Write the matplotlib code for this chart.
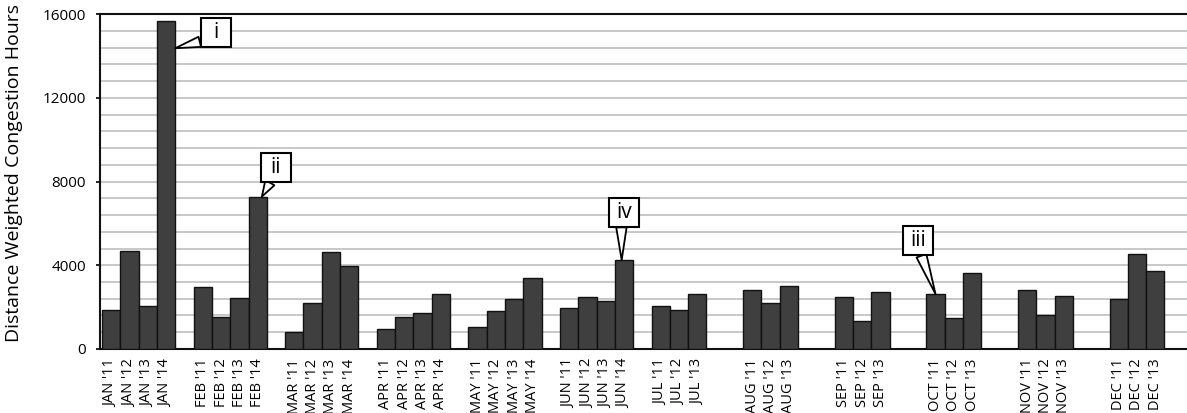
import numpy as np
import matplotlib.pyplot as plt
from matplotlib.path import Path

plt.rcParams['font.family'] = ['Open Sans', 'DejaVu Sans']

# --- data ---
months = ['JAN', 'FEB', 'MAR', 'APR', 'MAY', 'JUN',
          'JUL', 'AUG', 'SEP', 'OCT', 'NOV', 'DEC']
years = ["'11", "'12", "'13", "'14"]

# one row per month, one column per year (None = no data)
hours = [
    [1860, 4700, 2050, 15650],   # JAN
    [2980, 1550, 2450, 7280],    # FEB
    [830, 2180, 4610, 3980],     # MAR
    [955, 1550, 1710, 2620],     # APR
    [1040, 1830, 2380, 3390],    # MAY
    [1940, 2480, 2310, 4250],    # JUN
    [2060, 1850, 2610, None],    # JUL
    [2800, 2220, 2990, None],    # AUG
    [2480, 1360, 2740, None],    # SEP
    [2630, 1490, 3630, None],    # OCT
    [2820, 1610, 2510, None],    # NOV
    [2410, 4520, 3720, None],    # DEC
]

# callouts: (month, year index, label)
callouts = [('JAN', 3, 'i'), ('FEB', 3, 'ii'), ('OCT', 0, 'iii'), ('JUN', 3, 'iv')]

# --- build bar positions: 4 slots per month + 1 gap slot ---
xs, vals, labels = [], [], []
for m, month in enumerate(months):
    for y, yr in enumerate(years):
        v = hours[m][y]
        if v is None:
            continue
        xs.append(m * 5 + y)
        vals.append(v)
        labels.append(f"{month} {yr}")

fig = plt.figure(figsize=(11.87, 4.13), dpi=100)
ax = fig.add_axes([0.0842, 0.155, 0.9158, 0.811])

ax.bar(xs, vals, width=1.0, color='#3f3f3f', edgecolor='#111111', linewidth=1.0, zorder=3)

ax.set_ylim(0, 16000)
ax.set_xlim(-0.61, 58.73)
ax.set_yticks(np.arange(0, 16001, 4000))
ax.set_yticks(np.arange(0, 16001, 800), minor=True)
ax.grid(axis='y', which='both', color='#c4c4c4', linewidth=1.3, zorder=0)
ax.tick_params(axis='y', which='major', length=3, width=1.2, pad=7, labelsize=11)
ax.tick_params(axis='y', which='minor', length=0)

ax.set_xticks(xs)
ax.set_xticklabels(labels, rotation=90, fontsize=10.5)
ax.tick_params(axis='x', length=0, pad=7)

for side in ['left', 'bottom', 'top']:
    ax.spines[side].set_linewidth(1.5)
    ax.spines[side].set_color('#111111')
ax.spines['right'].set_visible(False)

ax.set_ylabel('Distance Weighted Congestion Hours', fontsize=14)
ax.yaxis.set_label_coords(-0.071, 0.525)


# fixed-size square callout box (pixels)
def fixed_box(x0, y0, width, height, mutation_size, w=30, h=29):
    cx, cy = x0 + width / 2, y0 + height / 2
    verts = [(cx - w / 2, cy - h / 2), (cx + w / 2, cy - h / 2),
             (cx + w / 2, cy + h / 2), (cx - w / 2, cy + h / 2),
             (cx - w / 2, cy - h / 2)]
    codes = [Path.MOVETO, Path.LINETO, Path.LINETO, Path.LINETO, Path.CLOSEPOLY]
    return Path(verts, codes)


# tip offset within the bar (slots, fraction of value), text offset (points), arrow root
callout_style = {
    'i':   dict(tip=(0.5, 0.918), off=(29, 11), relpos=(0.0, 0.24)),
    'ii':  dict(tip=(0.23, 1.0), off=(10, 21), relpos=(0.2, 0.0)),
    'iii': dict(tip=(0.0, 1.0), off=(-12.5, 38.5), relpos=(0.6, 0.0)),
    'iv':  dict(tip=(-0.13, 1.0), off=(1.7, 34.5), relpos=(0.33, 0.0)),
}

for month, yi, text in callouts:
    m = months.index(month)
    st = callout_style[text]
    x_tip = m * 5 + yi + st['tip'][0]
    y_tip = hours[m][yi] * st['tip'][1]
    ax.annotate(text, xy=(x_tip, y_tip), xytext=st['off'], textcoords='offset points',
                ha='center', va='center', fontsize=15, zorder=5,
                bbox=dict(boxstyle=fixed_box, fc='white', ec='black', lw=1.5),
                arrowprops=dict(arrowstyle='wedge,tail_width=0.5,shrink_factor=0.5',
                                fc='white', ec='black', lw=1.3,
                                relpos=st['relpos'], shrinkA=0, shrinkB=0))

plt.savefig('out.png', dpi=100)
